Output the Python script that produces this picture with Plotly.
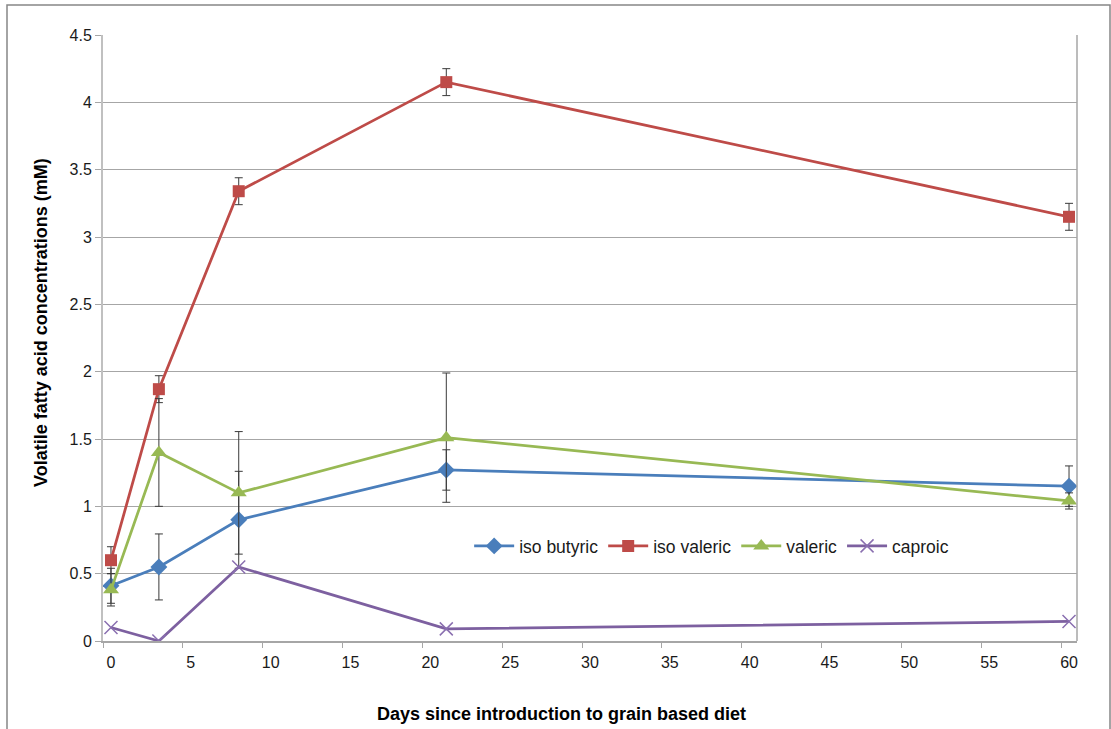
import plotly.graph_objects as go

days = [0, 3, 8, 21, 60]
iso_butyric = [0.41, 0.55, 0.90, 1.27, 1.15]
iso_butyric_err = [0.13, 0.245, 0.36, 0.15, 0.15]
iso_valeric = [0.60, 1.87, 3.34, 4.15, 3.15]
iso_valeric_err = [0.10, 0.10, 0.10, 0.10, 0.10]
valeric = [0.38, 1.40, 1.10, 1.51, 1.04]
valeric_err = [0.12, 0.40, 0.455, 0.48, 0.06]
caproic = [0.10, 0.00, 0.55, 0.09, 0.145]

x_ticks = list(range(0, 61, 5))
y_ticks = [0, 0.5, 1, 1.5, 2, 2.5, 3, 3.5, 4, 4.5]
y_tick_text = ["0", "0.5", "1", "1.5", "2", "2.5", "3", "3.5", "4", "4.5"]

FONT = "Liberation Sans, Arial, sans-serif"
ERR_COLOR = "#3a3a3a"

L, R, T, B = 103, 1077, 35, 641
PW, PH = R - L, B - T

fig = go.Figure()

def add(name, y, err, line_color, marker_color, symbol, size):
    err_cfg = dict(type="data", array=err, visible=True, color=ERR_COLOR,
                   thickness=1, width=4) if err is not None else dict(visible=False)
    fig.add_trace(go.Scatter(
        x=days, y=y, name=name, mode="lines+markers",
        line=dict(color=line_color, width=2.75),
        marker=dict(symbol=symbol, size=size, color=marker_color,
                    line=dict(color=marker_color, width=1.5 if symbol == "x-thin" else 0)),
        error_y=err_cfg,
    ))

add("iso butyric", iso_butyric, iso_butyric_err, "#4a7ebb", "#4a7ebb", "diamond", 13)
add("iso valeric", iso_valeric, iso_valeric_err, "#be4b48", "#be4b48", "square", 12)
add("valeric", valeric, valeric_err, "#98b954", "#98b954", "triangle-up", 14)
add("caproic", caproic, None, "#7d60a0", "#8a6fb0", "x-thin", 13)

fig.update_layout(
    width=1111, height=729,
    margin=dict(l=L, r=1111 - R, t=T, b=729 - B),
    paper_bgcolor="white", plot_bgcolor="white",
    font=dict(family=FONT, size=16, color="#1a1a1a"),
    showlegend=True,
    legend=dict(orientation="h", x=(475 - L) / PW - 0.006, y=(B - 546) / PH,
                xanchor="left", yanchor="middle",
                bgcolor="rgba(0,0,0,0)", font=dict(size=17.5, family=FONT, color="#1a1a1a"),
                itemwidth=40, tracegroupgap=0),
    xaxis=dict(
        range=[-0.5, 60.5], tickmode="array", tickvals=x_ticks,
        ticktext=[str(v) for v in x_ticks],
        ticks="outside", ticklen=6, tickcolor="rgba(0,0,0,0)",
        showgrid=False, zeroline=False,
        showline=True, linecolor="#a6a6a6", linewidth=1.5,
        minor=dict(tick0=-0.5, dtick=5, ticks="outside", ticklen=5,
                   tickcolor="#a6a6a6", showgrid=False),
        tickfont=dict(size=16, family=FONT, color="#1a1a1a"),
    ),
    yaxis=dict(
        range=[0, 4.5], tickmode="array", tickvals=y_ticks, ticktext=y_tick_text,
        ticks="outside", ticklen=6, tickcolor="#a6a6a6",
        showgrid=True, gridcolor="#a6a6a6", gridwidth=1, zeroline=False,
        showline=True, linecolor="#c0c0c0", linewidth=2, mirror=False,
        tickfont=dict(size=16, family=FONT, color="#1a1a1a"),
    ),
    annotations=[
        dict(text="<b>Days since introduction to grain based diet</b>",
             xref="paper", yref="paper", x=(561 - L) / PW, y=(B - 714) / PH,
             xanchor="center", yanchor="middle", showarrow=False,
             font=dict(size=18, family=FONT, color="#000")),
        dict(text="<b>Volatile fatty acid concentrations (mM)</b>",
             xref="paper", yref="paper", x=(41 - L) / PW, y=(B - 323) / PH,
             xanchor="center", yanchor="middle", showarrow=False, textangle=-90,
             font=dict(size=18, family=FONT, color="#000")),
    ],
    shapes=[
        dict(type="line", xref="paper", yref="paper", x0=1, x1=1, y0=0, y1=1,
             line=dict(color="#a6a6a6", width=1.5)),
        dict(type="rect", xref="paper", yref="paper",
             x0=(7 - L) / PW, x1=(1110 - L) / PW,
             y0=(B - 740) / PH, y1=(B - 5) / PH,
             line=dict(color="#868686", width=1.5), fillcolor="rgba(0,0,0,0)",
             layer="below"),
    ],
)

fig.write_html("out.html")
